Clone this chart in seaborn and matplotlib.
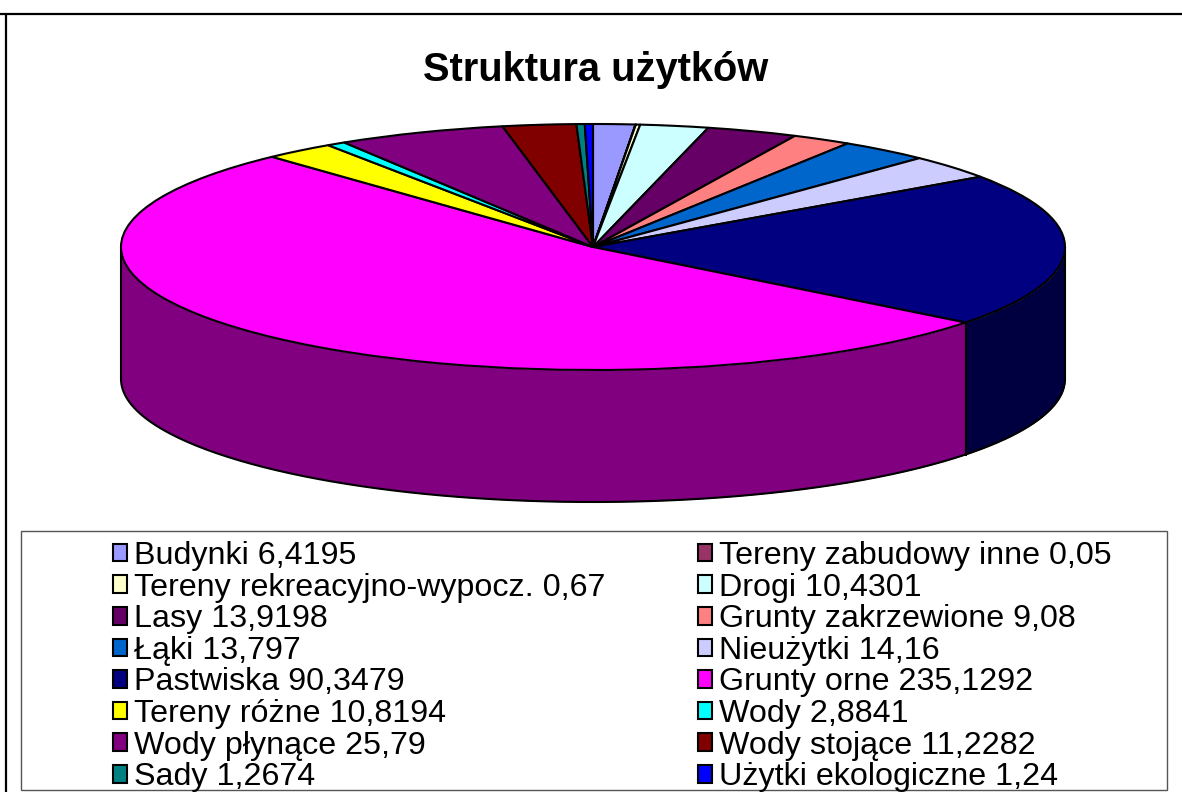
import numpy as np
import matplotlib
matplotlib.use("Agg")
import matplotlib.pyplot as plt
from matplotlib.patches import Rectangle
from matplotlib.lines import Line2D
import seaborn as sns

categories = ["Budynki", "Tereny zabudowy inne", "Tereny rekreacyjno-wypocz.", "Drogi",
              "Lasy", "Grunty zakrzewione", "Łąki", "Nieużytki",
              "Pastwiska", "Grunty orne", "Tereny różne", "Wody",
              "Wody płynące", "Wody stojące", "Sady", "Użytki ekologiczne"]
values = [6.4195, 0.05, 0.67, 10.4301, 13.9198, 9.08, 13.797, 14.16,
          90.3479, 235.1292, 10.8194, 2.8841, 25.79, 11.2282, 1.2674, 1.24]
value_labels = ["6,4195", "0,05", "0,67", "10,4301", "13,9198", "9,08", "13,797", "14,16",
                "90,3479", "235,1292", "10,8194", "2,8841", "25,79", "11,2282", "1,2674", "1,24"]
top_colors = ["#9999FF", "#993366", "#FFFFCC", "#CCFFFF", "#660066", "#FF8080", "#0066CC", "#CCCCFF",
              "#000080", "#FF00FF", "#FFFF00", "#00FFFF", "#800080", "#800000", "#008080", "#0000FF"]
title = "Struktura użytków"

sns.set_theme(style="white")
plt.rcParams["font.family"] = ["Liberation Sans", "DejaVu Sans"]

W, H = 1182, 792
fig = plt.figure(figsize=(W / 100, H / 100), dpi=100, facecolor="white")

# pixel geometry of the flattened pie
cx, cy, rx, ry, depth = 593, 247, 472, 123, 132
top_px, bottom_px = 110, 520
ax = fig.add_axes([(cx - rx) / W, 1 - bottom_px / H, 2 * rx / W, (bottom_px - top_px) / H])

palette = sns.color_palette(top_colors)
edge = {"edgecolor": "black", "linewidth": 1.5}
wedges, _ = ax.pie(values, colors=palette, startangle=90, counterclock=False,
                   wedgeprops=dict(**edge, joinstyle="round"), radius=1)
ax.set_aspect("auto")
ax.set_xlim(-1, 1)
ax.set_ylim((cy - bottom_px) / ry, (cy - top_px) / ry)
for s in ax.spines.values():
    s.set_visible(False)
for w in wedges:
    w.set_clip_on(False)
    w.set_zorder(3)

# side wall of the disc
d = depth / ry
cum = np.cumsum([0] + values) / sum(values) * 360
for a0, a1, col in zip(cum[:-1], cum[1:], palette):
    lo, hi = max(a0, 90), min(a1, 270)
    if hi <= lo:
        continue
    th = np.radians(np.linspace(lo, hi, 200))
    x, y = np.sin(th), np.cos(th)
    dark = tuple(c * 0.5 for c in col)
    ax.fill_between(x, y, y - d, color=dark, linewidth=0, zorder=1, clip_on=False)
    ax.plot(x, y - d, color="black", lw=1.5, zorder=2, clip_on=False)
    for xe, ye in ((x[0], y[0]), (x[-1], y[-1])):
        ax.plot([xe, xe], [ye, ye - d], color="black", lw=1.5, zorder=2, clip_on=False)

# outer chart border
fig.add_artist(Line2D([0, 1], [1 - 13.5 / H] * 2, color="black", lw=1.6))
fig.add_artist(Line2D([5.5 / W] * 2, [0, 1 - 13.5 / H], color="black", lw=1.6))

fig.text(596 / W, 1 - 70 / H, title, ha="center", va="center",
         fontsize=28.7, fontweight="bold", color="black")

# legend frame and entries (row-wise order in two columns)
fig.add_artist(Rectangle((21 / W, 1 - 790 / H), (1167 - 21) / W, (790 - 531) / H,
                         transform=fig.transFigure, facecolor="white",
                         edgecolor="#555555", linewidth=1.0, zorder=0))
labels = [f"{c} {v}" for c, v in zip(categories, value_labels)]
order = list(range(0, 16, 2)) + list(range(1, 16, 2))
leg = fig.legend([wedges[i] for i in order], [labels[i] for i in order],
                 ncols=2, loc="upper left",
                 bbox_to_anchor=(113 / W, 1 - 541 / H), bbox_transform=fig.transFigure,
                 frameon=False, fontsize=23.2, borderpad=0, borderaxespad=0,
                 handlelength=0.43, handleheight=0.47, handletextpad=0.22,
                 labelspacing=0.05, columnspacing=2.87)
for t in leg.get_texts():
    t.set_color("black")
for p in leg.get_patches():
    p.set_edgecolor("black")
    p.set_linewidth(1.5)

fig.savefig("out.png", dpi=100, facecolor="white")
